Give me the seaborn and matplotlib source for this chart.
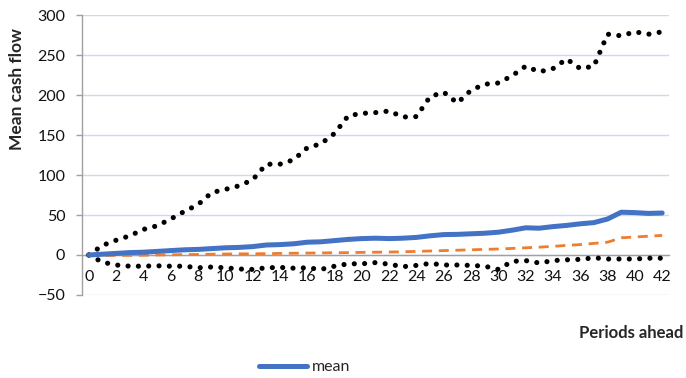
import matplotlib
matplotlib.use("Agg")
import matplotlib.pyplot as plt
from matplotlib.ticker import MultipleLocator, FixedLocator
import numpy as np
import pandas as pd
import seaborn as sns

# Forecast horizon (periods ahead)
periods = list(range(0, 43))

# Upper band of simulated cash flow
upper = [0, 12, 18.5, 24, 32, 36.5, 45, 54.5, 63, 78, 82, 86.5, 94, 113.5, 113.5,
         119, 134, 139, 152, 174, 177, 178, 180, 172.5, 173, 198, 203.5, 190, 206,
         213.5, 215, 224, 236, 229, 233, 245, 233, 236, 276, 274, 279, 276, 279]

# Mean cash flow
mean = [0, 1, 2, 3, 3.5, 4.5, 5.5, 6.5, 7, 8, 9, 9.5, 10.5, 12.5, 13, 14, 16, 16.5,
        18, 19.5, 20.5, 21, 20.5, 21, 22, 24, 25.5, 25.8, 26.5, 27.2, 28.5, 31, 34,
        33.5, 35.5, 37, 39, 40.5, 45, 53.5, 53, 52, 52.5]

# Median cash flow
median = [0, -0.5, -0.5, -0.5, -0.3, 0, 0.2, 0.5, 0.7, 1, 1.2, 1.4, 1.5, 1.7, 2,
          2.2, 2.4, 2.6, 2.8, 3, 3.3, 3.5, 3.7, 4, 4.5, 5, 5.5, 6, 6.5, 7, 7.5, 8.2,
          9, 9.8, 10.8, 12, 13, 14.5, 16, 21.5, 22.5, 23.5, 24.5]

# Lower band of simulated cash flow
lower = [0, -9, -12.5, -14, -14, -13.5, -14, -14, -16, -15, -16, -17.5, -18, -16,
         -15.5, -16.5, -16, -18, -14, -11, -11, -9.5, -11.5, -14.6, -13, -10.5,
         -12.5, -12.5, -13, -14, -18, -8, -7, -10, -7, -6, -5.5, -3.5, -5, -5, -5,
         -4, -4]

y_ticks = [-50, 0, 50, 100, 150, 200, 250, 300]

df = pd.DataFrame({"period": periods, "upper": upper, "mean": mean,
                   "median": median, "lower": lower})

sns.set_style("white")
plt.rcParams["font.family"] = ["Lato", "DejaVu Sans"]

fig = plt.figure(figsize=(6.86, 3.78), dpi=100)
ax = fig.add_axes([82 / 686, 1 - 295 / 378, 587 / 686, 280 / 378])

dot_style = dict(color="black", linewidth=3.7, linestyle=(0, (0.01, 2.0)),
                 dash_capstyle="round")
sns.lineplot(data=df, x="period", y="upper", ax=ax, label="_nolegend_",
             errorbar=None, **dot_style)
sns.lineplot(data=df, x="period", y="lower", ax=ax, label="_nolegend_",
             errorbar=None, **dot_style)
sns.lineplot(data=df, x="period", y="median", ax=ax, label="_nolegend_",
             errorbar=None, color="#ED7D31", linewidth=2.0,
             linestyle=(0, (3.6, 2.4)))
sns.lineplot(data=df, x="period", y="mean", ax=ax, label="mean",
             errorbar=None, color="#4472C4", linewidth=3.6,
             solid_capstyle="round")

ax.set_xlim(-0.5, 42.5)
ax.set_ylim(-50, 300)

# Horizontal gridlines
ax.set_yticks(y_ticks)
ax.yaxis.grid(True, color="#cfd8f0", linewidth=1.0)
ax.xaxis.grid(False)
ax.set_axisbelow(True)

# Spines: left axis plus category axis crossing at zero
for side in ("top", "right"):
    ax.spines[side].set_visible(False)
ax.spines["left"].set_color("#a0a0a0")
ax.spines["left"].set_linewidth(1.0)
ax.spines["bottom"].set_position(("data", 0))
ax.spines["bottom"].set_color("#a0a0a0")
ax.spines["bottom"].set_linewidth(1.0)
ax.spines["bottom"].set_zorder(1)

ax.xaxis.set_major_locator(MultipleLocator(2))
ax.xaxis.set_minor_locator(FixedLocator(np.arange(-0.5, 43, 1)))
ax.tick_params(axis="x", which="major", length=0, pad=11, labelsize=11.5,
               labelcolor="#111111")
ax.tick_params(axis="x", which="minor", length=4, width=1, color="#a0a0a0",
               direction="out")
ax.tick_params(axis="y", which="major", length=4, width=1, color="#a0a0a0",
               pad=8, labelsize=11.5, labelcolor="#111111", left=True)

ax.set_xlabel("")
ax.set_ylabel("")
fig.text(17 / 686, 1 - 89 / 378, "Mean cash flow", rotation=90, ha="center",
         va="center", fontsize=12.5, fontweight="bold")
fig.text(683 / 686, 1 - 333 / 378, "Periods ahead", ha="right", va="center",
         fontsize=12, fontweight="bold")

if ax.get_legend() is not None:
    ax.get_legend().remove()
handles, labels = ax.get_legend_handles_labels()
fig.legend(handles, labels, loc="center", bbox_to_anchor=(305 / 686, 1 - 367 / 378),
           frameon=False, fontsize=11.5, handlelength=3.0, handletextpad=0.3,
           borderpad=0, borderaxespad=0)

fig.savefig("out.png", dpi=100)
